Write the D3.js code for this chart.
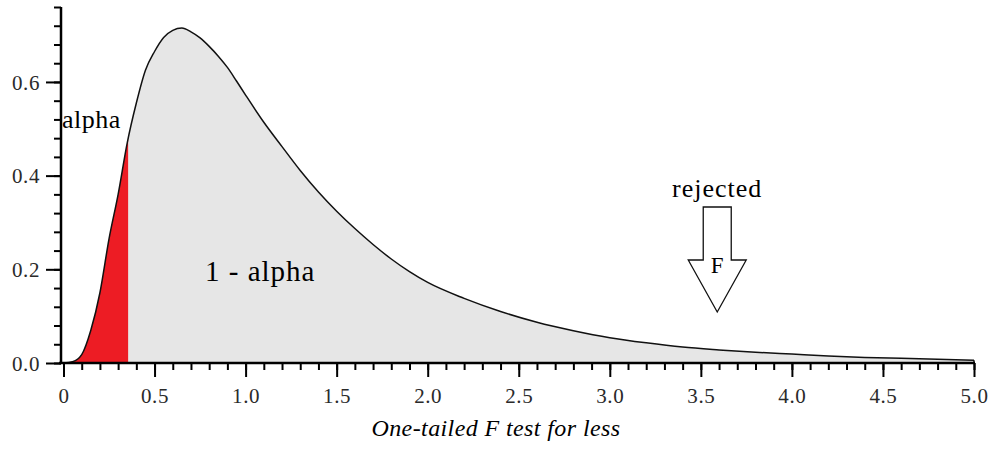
<!DOCTYPE html>
<html>
<head>
<meta charset="utf-8">
<script src="https://cdn.jsdelivr.net/npm/d3@7"></script>
<style>
  html, body { margin: 0; padding: 0; background: #ffffff; }
  svg { display: block; }
  text { font-family: "Liberation Serif", "Times New Roman", serif; }
</style>
</head>
<body>
<svg id="chart" width="992" height="450"></svg>
<script>
// ---- data ----
const xValues = [0, 0.05, 0.1, 0.15, 0.2, 0.25, 0.3, 0.35, 0.4, 0.45, 0.5, 0.55, 0.6, 0.65, 0.7, 0.75, 0.8, 0.85, 0.9, 0.95, 1.0,
  1.1, 1.2, 1.3, 1.4, 1.5, 1.6, 1.7, 1.8, 1.9, 2.0, 2.2, 2.4, 2.6, 2.8, 3.0, 3.2, 3.4, 3.6, 3.8, 4.0, 4.2, 4.4, 4.6, 4.8, 5.0];
const densityValues = [0, 0.003, 0.018, 0.07, 0.15, 0.265, 0.36, 0.47, 0.555, 0.625, 0.665, 0.695, 0.71, 0.715, 0.707, 0.694, 0.676, 0.655, 0.631, 0.602, 0.572,
  0.514, 0.462, 0.411, 0.365, 0.324, 0.287, 0.253, 0.222, 0.195, 0.172, 0.138, 0.11, 0.087, 0.069, 0.054, 0.043, 0.034, 0.028, 0.023, 0.019, 0.015, 0.012, 0.010, 0.008, 0.006];
const alphaCut = 0.355;          // critical value (red region ends here)
const rejectedAt = 3.59;         // F statistic marked by the arrow
const xTickLabels = ["0", "0.5", "1.0", "1.5", "2.0", "2.5", "3.0", "3.5", "4.0", "4.5", "5.0"];
const xMajorTicks = [0, 0.5, 1, 1.5, 2, 2.5, 3, 3.5, 4, 4.5, 5];
const yMajorTicks = [0, 0.2, 0.4, 0.6];
const yTickLabels = ["0.0", "0.2", "0.4", "0.6"];
const caption = "One-tailed F test for less";

// ---- layout ----
const svg = d3.select("#chart");
const x = d3.scaleLinear().domain([0, 5]).range([63.5, 974]);
const y = d3.scaleLinear().domain([0, 0.76]).range([363, 7]);
const pts = xValues.map((v, i) => ({ x: v, y: densityValues[i] }));

const area = d3.area().x(d => x(d.x)).y0(y(0)).y1(d => y(d.y)).curve(d3.curveMonotoneX);
const line = d3.line().x(d => x(d.x)).y(d => y(d.y)).curve(d3.curveMonotoneX);

const defs = svg.append("defs");
defs.append("clipPath").attr("id", "clipAlpha").append("rect")
  .attr("x", x(0) - 2).attr("y", 0).attr("width", x(alphaCut) - x(0) + 2).attr("height", y(0));
defs.append("clipPath").attr("id", "clipRest").append("rect")
  .attr("x", x(alphaCut)).attr("y", 0).attr("width", x(5) - x(alphaCut)).attr("height", y(0));

svg.append("path").datum(pts).attr("d", area).attr("fill", "#e6e6e6").attr("clip-path", "url(#clipRest)");
svg.append("path").datum(pts).attr("d", area).attr("fill", "#ed1c24").attr("clip-path", "url(#clipAlpha)");
svg.append("path").datum(pts).attr("d", line).attr("fill", "none").attr("stroke", "#111").attr("stroke-width", 1.5);
// closing edge at x = 5
svg.append("line").attr("x1", x(5)).attr("x2", x(5)).attr("y1", y(densityValues[densityValues.length - 1])).attr("y2", y(0))
  .attr("stroke", "#111").attr("stroke-width", 1.5);

// ---- axes ----
const xAxisMinor = d3.axisBottom(x).tickValues(d3.range(0, 50.5, 1).map(d => d / 10)).tickSize(7).tickFormat("");
const xAxisMajor = d3.axisBottom(x).tickValues(xMajorTicks).tickSize(14).tickFormat((d, i) => xTickLabels[i]);
const gxm = svg.append("g").attr("transform", `translate(0,${y(0)})`).call(xAxisMinor);
const gx = svg.append("g").attr("transform", `translate(0,${y(0)})`).call(xAxisMajor);
[gxm, gx].forEach(g => { g.select(".domain").remove(); g.selectAll("line").attr("stroke", "#000").attr("stroke-width", 2); });
gx.selectAll("text").attr("font-size", 21).attr("fill", "#2a2a2a").attr("dy", 0).attr("y", 40).style("letter-spacing", "0.6px")
  .attr("font-family", "Liberation Serif");
svg.append("line").attr("x1", 59).attr("x2", x(5) + 1).attr("y1", y(0)).attr("y2", y(0)).attr("stroke", "#000").attr("stroke-width", 2.5);

const yAxisMinor = d3.axisLeft(y).tickValues(d3.range(0, 20, 1).map(d => d * 0.04)).tickSize(7).tickFormat("");
const yAxisMajor = d3.axisLeft(y).tickValues(yMajorTicks).tickSize(15).tickFormat((d, i) => yTickLabels[i]);
const gym = svg.append("g").attr("transform", "translate(61,0)").call(yAxisMinor);
const gy = svg.append("g").attr("transform", "translate(61,0)").call(yAxisMajor);
[gym, gy].forEach(g => { g.select(".domain").remove(); g.selectAll("line").attr("stroke", "#000").attr("stroke-width", 2); });
gy.selectAll("text").attr("font-size", 21).attr("fill", "#2a2a2a").attr("x", -21).attr("dy", "0.35em").style("letter-spacing", "0.6px")
  .attr("font-family", "Liberation Serif");
svg.append("line").attr("x1", 61).attr("x2", 61).attr("y1", y(0.76)).attr("y2", y(0) + 1).attr("stroke", "#000").attr("stroke-width", 2.5);

// ---- annotations ----
svg.append("text").attr("x", 62).attr("y", 128).attr("font-size", 26).attr("fill", "#000")
  .style("letter-spacing", "0.5px").text("alpha");
svg.append("text").attr("x", 205).attr("y", 281).attr("font-size", 29).attr("fill", "#000")
  .style("letter-spacing", "1px").text("1 - alpha");
svg.append("text").attr("x", x(rejectedAt)).attr("y", 197).attr("text-anchor", "middle").attr("font-size", 26).attr("fill", "#000")
  .style("letter-spacing", "1px").text("rejected");

const ax = x(rejectedAt);
const arrowPts = [[ax - 14, 207], [ax + 14, 207], [ax + 14, 260], [ax + 29, 260], [ax, 312], [ax - 29, 260], [ax - 14, 260]];
svg.append("path").attr("d", d3.line()(arrowPts) + "Z").attr("fill", "#fff").attr("stroke", "#111").attr("stroke-width", 1.3);
svg.append("text").attr("x", ax).attr("y", 273).attr("text-anchor", "middle").attr("font-size", 23).attr("fill", "#000").text("F");

svg.append("text").attr("x", 496).attr("y", 436).attr("text-anchor", "middle").attr("font-size", 24).attr("font-style", "italic")
  .attr("fill", "#000").style("letter-spacing", "0.4px").text(caption);
</script>
</body>
</html>
